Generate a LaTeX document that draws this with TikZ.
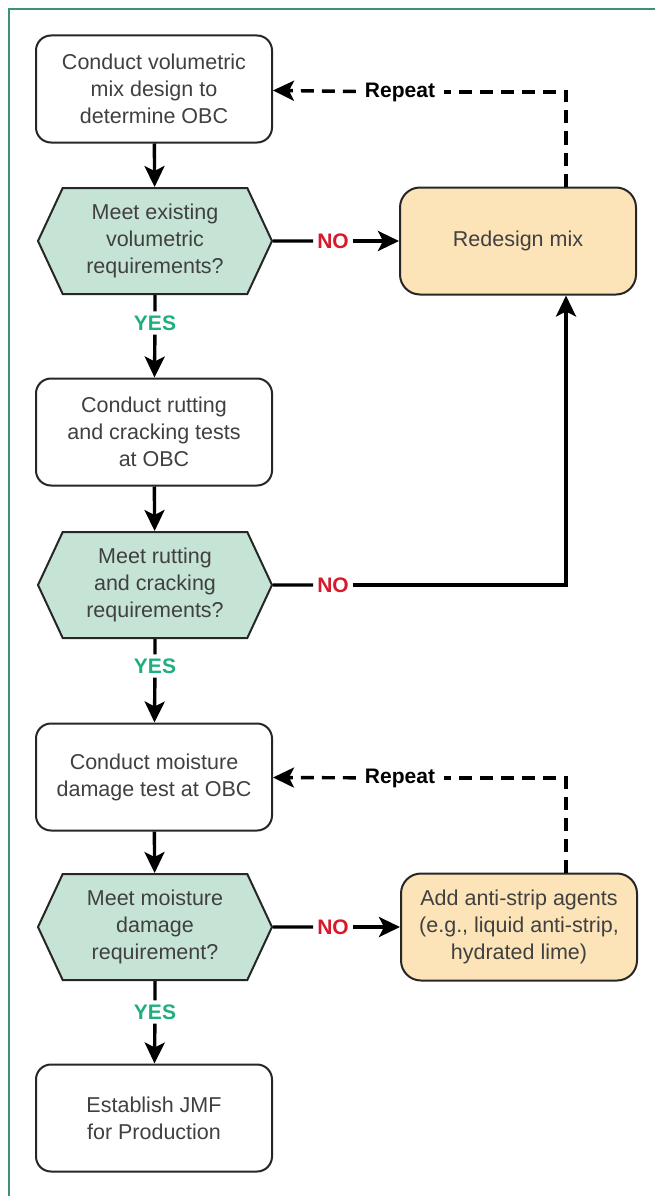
\documentclass[tikz,border=0pt]{standalone}
\usepackage{fontspec}
\setmainfont{Liberation Sans}
\usepackage{xcolor}
\usepackage{tikz}
\usetikzlibrary{arrows.meta,shapes.symbols}

\definecolor{framegreen}{HTML}{3B9277}
\definecolor{checkgreen}{HTML}{C6E4D6}
\definecolor{fixorange}{HTML}{FCE4B8}
\definecolor{textgray}{HTML}{404040}
\definecolor{yesgreen}{HTML}{1FAE7E}
\definecolor{nored}{HTML}{D8182B}

\tikzset{
  stepbox/.style={draw=black!85, line width=2pt, rounded corners=15pt, fill=white,
    text=textgray, align=center, minimum width=236pt, minimum height=107pt,
    inner sep=0pt, font=\fontsize{21.5}{27}\selectfont},
  fixbox/.style={stepbox, fill=fixorange, rounded corners=20pt},
  checkbox/.style={shape=signal, signal to=west and east, signal pointer angle=130,
    draw=black!85, line width=2pt, fill=checkgreen, text=textgray, align=center,
    minimum width=234pt, minimum height=106pt, inner sep=0pt,
    font=\fontsize{21.5}{27}\selectfont},
  yeslabel/.style={text=yesgreen, font=\fontsize{21}{22}\selectfont\bfseries, inner sep=4pt},
  nolabel/.style={text=nored, font=\fontsize{21}{22}\selectfont\bfseries, inner sep=4pt},
  replabel/.style={text=black, font=\fontsize{21}{22}\selectfont\bfseries, inner xsep=9pt},
  lnk/.style={line width=3.4pt},
  arr/.style={line width=3.4pt, -{Stealth[length=21pt,width=20pt,inset=5pt]}},
  dasharr/.style={arr, dash pattern=on 13pt off 8pt}
}

\begin{document}
\begin{tikzpicture}[x=1pt,y=-1pt]
\useasboundingbox (0,0) rectangle (655,1196);
\draw[framegreen, line width=1.5pt] (655,9) -- (9,9) -- (9,1196);

% main column
\node[stepbox] (design) at (154,89) {Conduct volumetric\\mix design to\\determine OBC};
\node[checkbox] (volcheck) at (155,241) {Meet existing\\volumetric\\requirements?};
\node[yeslabel] (yes1) at (155,323) {YES};
\node[stepbox] (rutting) at (154,432) {Conduct rutting\\and cracking tests\\at OBC};
\node[checkbox] (rutcheck) at (155,585) {Meet rutting\\and cracking\\requirements?};
\node[yeslabel] (yes2) at (155,666) {YES};
\node[stepbox] (moisture) at (154,777) {Conduct moisture\\damage test at OBC};
\node[checkbox] (moistcheck) at (155,927) {Meet moisture\\damage\\requirement?};
\node[yeslabel] (yes3) at (155,1012) {YES};
\node[stepbox] (jmf) at (154,1118) {Establish JMF\\for Production};

% right column
\node[fixbox] (redesign) at (518,241) {Redesign mix};
\node[fixbox] (antistrip) at (519,927) {Add anti-strip agents\\(e.g., liquid anti-strip,\\hydrated lime)};
\node[nolabel] (no1) at (333,241) {NO};
\node[nolabel] (no2) at (333,585) {NO};
\node[nolabel] (no3) at (333,927) {NO};
\node[replabel] (rep1) at (400,92) {Repeat};
\node[replabel] (rep2) at (400,778) {Repeat};
\coordinate (turn1) at (566,92);
\coordinate (turn2) at (566,778);

% flow
\draw[arr] (design) -- (volcheck);
\draw[lnk] (volcheck) -- (yes1);
\draw[arr] (yes1) -- (rutting);
\draw[arr] (rutting) -- (rutcheck);
\draw[lnk] (rutcheck) -- (yes2);
\draw[arr] (yes2) -- (moisture);
\draw[arr] (moisture) -- (moistcheck);
\draw[lnk] (moistcheck) -- (yes3);
\draw[arr] (yes3) -- (jmf);

\draw[lnk] (volcheck) -- (no1);
\draw[arr] (no1) -- (redesign);
\draw[lnk] (rutcheck) -- (no2);
\draw[arr] (no2) -| (redesign.south -| turn1);
\draw[lnk] (moistcheck) -- (no3);
\draw[arr] (no3) -- (antistrip);

% repeat loops
\draw[lnk, dash pattern=on 13pt off 8pt] (redesign.north -| turn1) -- (turn1) -- (rep1);
\draw[dasharr] (rep1) -- (design);
\draw[lnk, dash pattern=on 13pt off 8pt] (antistrip.north -| turn2) -- (turn2) -- (rep2);
\draw[dasharr] (rep2) -- (moisture);
\end{tikzpicture}
\end{document}
